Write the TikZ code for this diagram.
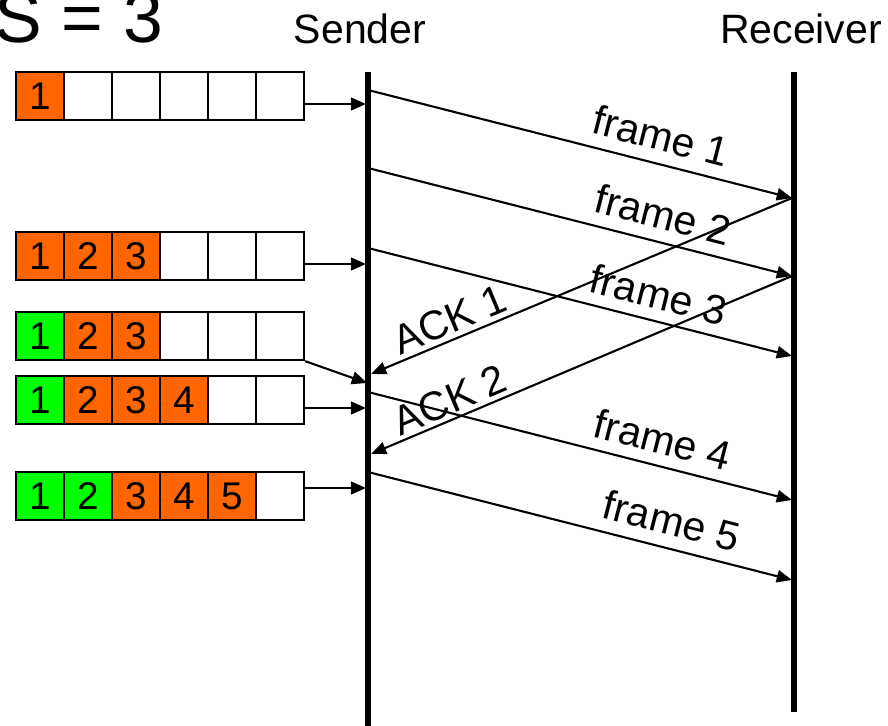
\documentclass[tikz,border=0pt]{standalone}
\usepackage{fontspec}
\setmainfont{Liberation Sans}
\usetikzlibrary{positioning,calc}
\usetikzlibrary{arrows.meta}
\definecolor{SentOrange}{RGB}{255,102,0}
\definecolor{AckGreen}{RGB}{0,255,0}
\tikzset{
  cell/.style={draw=black,line width=2pt,minimum size=1.44cm,inner sep=0pt,
    font=\fontsize{33}{33}\selectfont},
  sent/.style={cell,fill=SentOrange},
  acked/.style={cell,fill=AckGreen},
  free/.style={cell,fill=white},
  life/.style={draw=black,line width=4.3pt},
  msg/.style={draw=black,line width=1.8pt,-{Triangle[length=13pt,width=10.5pt]}},
  feed/.style={draw=black,line width=1.8pt,-{Triangle[length=13pt,width=11pt]}},
  lbl/.style={sloped,inner sep=0pt,font=\fontsize{35}{35}\selectfont},
  head/.style={inner sep=0pt,anchor=base,font=\fontsize{35}{35}\selectfont},
}

\begin{document}
\begin{tikzpicture}[x=0.03cm,y=-0.03cm]
\useasboundingbox (0,0) rectangle (888,726);
\node[inner sep=0pt,anchor=base west,font=\fontsize{61}{61}\selectfont] (title) at (-6,42) {S = 3};
\node[head] (sender) at (360,43) {Sender};
\node[head] (receiver) at (801,43) {Receiver};
\coordinate (stop) at (368,72);
\coordinate (sbot) at (368,726);
\coordinate (rtop) at (794,72);
\coordinate (rbot) at (794,712);
\draw[life] (stop)--(sbot);
\draw[life] (rtop)--(rbot);
% sender window rows
\node[sent] (w1c1) at (40,96) {1};
\node[free] (w1c2) at (88,96) {};
\node[free] (w1c3) at (136,96) {};
\node[free] (w1c4) at (184,96) {};
\node[free] (w1c5) at (232,96) {};
\node[free] (w1c6) at (280,96) {};
\node[sent] (w2c1) at (40,256) {1};
\node[sent] (w2c2) at (88,256) {2};
\node[sent] (w2c3) at (136,256) {3};
\node[free] (w2c4) at (184,256) {};
\node[free] (w2c5) at (232,256) {};
\node[free] (w2c6) at (280,256) {};
\node[acked] (w3c1) at (40,336) {1};
\node[sent] (w3c2) at (88,336) {2};
\node[sent] (w3c3) at (136,336) {3};
\node[free] (w3c4) at (184,336) {};
\node[free] (w3c5) at (232,336) {};
\node[free] (w3c6) at (280,336) {};
\node[acked] (w4c1) at (40,400) {1};
\node[sent] (w4c2) at (88,400) {2};
\node[sent] (w4c3) at (136,400) {3};
\node[sent] (w4c4) at (184,400) {4};
\node[free] (w4c5) at (232,400) {};
\node[free] (w4c6) at (280,400) {};
\node[acked] (w5c1) at (40,496) {1};
\node[acked] (w5c2) at (88,496) {2};
\node[sent] (w5c3) at (136,496) {3};
\node[sent] (w5c4) at (184,496) {4};
\node[sent] (w5c5) at (232,496) {5};
\node[free] (w5c6) at (280,496) {};
% points on the sender line
\coordinate (in1) at (366,104);
\coordinate (in2) at (366,264);
\coordinate (in3) at (367,383);
\coordinate (in4) at (366,408);
\coordinate (in5) at (366,488);
\coordinate (s1) at (368,90);
\coordinate (s2) at (368,168);
\coordinate (s3) at (368,248);
\coordinate (s4) at (368,392);
\coordinate (s5) at (368,472);
\coordinate (a1) at (371,374);
\coordinate (a2) at (371,454);
% points on the receiver line
\coordinate (r1) at (792,198);
\coordinate (r2) at (792,276);
\coordinate (r3) at (792,356);
\coordinate (r4) at (792,500);
\coordinate (r5) at (792,580);
\draw[feed] (w1c6.east |- in1)--(in1);
\draw[feed] (w2c6.east |- in2)--(in2);
\draw[feed] (w3c6.south east)--(in3);
\draw[feed] (w4c6.east |- in4)--(in4);
\draw[feed] (w5c6.east |- in5)--(in5);
\draw[msg] (s1)--node[lbl,pos=0.675,above=10pt]{frame 1}(r1);
\draw[msg] (s2)--node[lbl,pos=0.68,above=10pt]{frame 2}(r2);
\draw[msg] (s3)--node[lbl,pos=0.67,above=9pt]{frame 3}(r3);
\draw[msg] (s4)--node[lbl,pos=0.68,above=9pt]{frame 4}(r4);
\draw[msg] (s5)--node[lbl,pos=0.70,above=10pt]{frame 5}(r5);
\draw[msg,{Triangle[length=13pt,width=10.5pt]}-] (a1)--node[lbl,pos=0.205,above=4pt]{ACK 1}(r1);
\draw[msg,{Triangle[length=13pt,width=10.5pt]}-] (a2)--node[lbl,pos=0.205,above=3pt]{ACK 2}(r2);
\end{tikzpicture}
\end{document}
